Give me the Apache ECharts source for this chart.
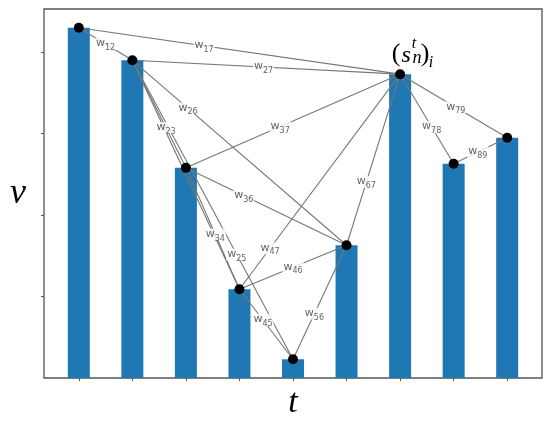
<!DOCTYPE html>
<html><head><meta charset="utf-8">
<script src="https://cdn.jsdelivr.net/npm/echarts@6/dist/echarts.min.js"></script>
<style>html,body{margin:0;padding:0;background:#fff}#c{width:550px;height:425px}</style>
</head><body><div id="c"></div>
<script>
// bar positions (time steps) and values
const positions = [1, 2, 3, 4, 5, 6, 7, 8, 9];
const values = [4.30, 3.90, 2.58, 1.09, 0.23, 1.63, 3.73, 2.63, 2.95];
// graph edges (node indices are 1-based positions)
const edgeFrom = [1, 1, 2, 2, 2, 2, 2, 3, 3, 3, 4, 4, 4, 5, 6, 7, 7, 8];
const edgeTo   = [2, 7, 7, 6, 3, 4, 5, 7, 6, 4, 7, 6, 5, 6, 7, 8, 9, 9];
// fraction along each edge where its label sits (null = label hidden)
const edgeLabelPos = [0.5, 0.39, 0.49, 0.26, 0.63, null, 0.65, 0.44, 0.36, 0.55, 0.19, 0.5, 0.44, 0.4, 0.37, 0.59, 0.52, 0.45];
const yTicks = [1, 2, 3, 4];
const xTicks = positions;

const chart = echarts.init(document.getElementById('c'), null, {renderer: 'canvas'});

const pt = i => [positions[i - 1], values[i - 1]];
const lineData = edgeFrom.map((f, k) => ({coords: [pt(f), pt(edgeTo[k])]}));
const labelData = [];
edgeFrom.forEach((f, k) => {
  const t = edgeLabelPos[k];
  if (t === null) return;
  const a = pt(f), b = pt(edgeTo[k]);
  labelData.push({value: [a[0] + (b[0] - a[0]) * t, a[1] + (b[1] - a[1]) * t], sub: '' + f + edgeTo[k]});
});

const frameColor = '#555';

chart.setOption({
  animation: false,
  grid: {left: 44, right: 8, top: 9, bottom: 46, show: true, borderColor: frameColor, borderWidth: 1.3, backgroundColor: '#fff'},
  xAxis: {
    type: 'value', min: 0.35, max: 9.65,
    name: 't', nameLocation: 'middle', nameGap: 8,
    nameTextStyle: {fontFamily: 'Liberation Serif', fontStyle: 'italic', fontSize: 34, color: '#000'},
    axisLine: {show: false},
    axisTick: {show: true, length: 3, inside: false, lineStyle: {color: frameColor}, customValues: xTicks},
    axisLabel: {show: false},
    splitLine: {show: false}
  },
  yAxis: {
    type: 'value', min: 0, max: 4.53,
    name: 'v', nameLocation: 'middle', nameGap: 18, nameRotate: 0,
    nameTextStyle: {fontFamily: 'Liberation Serif', fontStyle: 'italic', fontSize: 36, color: '#000'},
    axisLine: {show: false},
    axisTick: {show: true, length: 3, lineStyle: {color: frameColor}, customValues: yTicks},
    axisLabel: {show: false},
    splitLine: {show: false}
  },
  series: [
    {
      type: 'bar', barWidth: 22, z: 1,
      itemStyle: {color: '#1f77b4'},
      data: positions.map((p, i) => [p, values[i]])
    },
    {
      type: 'lines', coordinateSystem: 'cartesian2d', z: 3,
      lineStyle: {color: '#777', width: 1.1, opacity: 1},
      data: lineData, symbol: 'none', silent: true
    },
    {
      type: 'scatter', z: 4, symbolSize: 0,
      data: labelData,
      label: {
        show: true, position: 'inside',
        backgroundColor: '#fff', padding: [0, 1, 0, 1],
        formatter: p => '{w|w}{s|' + p.data.sub + '}',
        rich: {
          w: {fontFamily: 'DejaVu Sans', fontSize: 11, color: '#3a3a3a', lineHeight: 12, verticalAlign: 'top'},
          s: {fontFamily: 'DejaVu Sans', fontSize: 8, color: '#3a3a3a', lineHeight: 8, padding: [6, 0, 0, 0], verticalAlign: 'top'}
        }
      }
    },
    {
      type: 'scatter', z: 5, symbolSize: 10,
      itemStyle: {color: '#000', opacity: 1},
      data: positions.map((p, i) => [p, values[i]])
    }
  ]
});

// annotation (s_n^t)_i anchored above node 7
const anchor = chart.convertToPixel({gridIndex: 0}, pt(7));
const serif = 'Liberation Serif';
const txt = (s, dx, dy, size, italic) => ({
  type: 'text', x: anchor[0] + dx, y: anchor[1] + dy, z: 10,
  style: {text: s, fontFamily: serif, fontStyle: italic ? 'italic' : 'normal', fontSize: size, fill: '#000', align: 'center', verticalAlign: 'middle'}
});
chart.setOption({
  graphic: [
    txt('(', -4, -20, 26, false),
    txt('s', 6, -18, 24, true),
    txt('t', 14, -30, 16, true),
    txt('n', 17, -16, 18, true),
    txt(')', 25, -20, 26, false),
    txt('i', 31, -11, 16, true)
  ]
});
</script>
</body></html>
